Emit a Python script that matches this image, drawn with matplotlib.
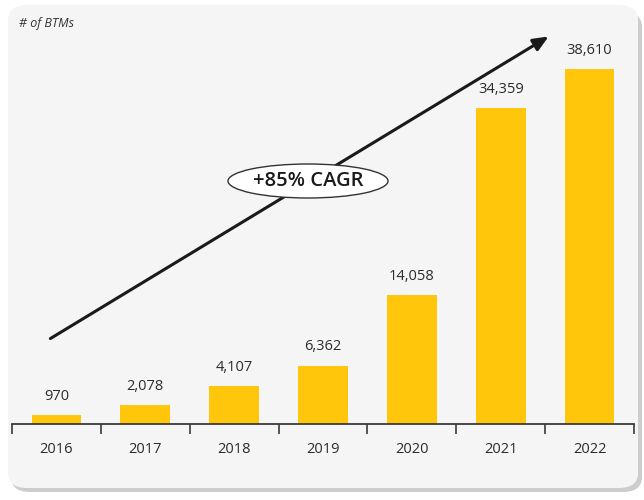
import matplotlib
matplotlib.use("Agg")
import matplotlib.pyplot as plt
from matplotlib.patches import FancyBboxPatch, Ellipse, FancyArrowPatch
import numpy as np

years = ["2016", "2017", "2018", "2019", "2020", "2021", "2022"]
btms = [970, 2078, 4107, 6362, 14058, 34359, 38610]
cagr_label = "+85% CAGR"
unit_label = "# of BTMs"

plt.rcParams['font.family'] = ['Open Sans', 'DejaVu Sans']

W, H = 644, 500
fig = plt.figure(figsize=(W/100, H/100), dpi=100)
fig.patch.set_facecolor('white')

def fx(px): return px / W
def fy(py): return 1 - py / H

# shadow + panel
shadow = FancyBboxPatch((fx(11), fy(492)), fx(631), (488 - 8) / H,
                        boxstyle="round,pad=0,rounding_size=0.03",
                        transform=fig.transFigure, facecolor='#cdcdcd',
                        edgecolor='none', zorder=-2)
fig.patches.append(shadow)
panel = FancyBboxPatch((fx(8), fy(488)), fx(630), (488 - 5) / H,
                       boxstyle="round,pad=0,rounding_size=0.03",
                       transform=fig.transFigure, facecolor='#f5f5f5',
                       edgecolor='none', zorder=-1)
fig.patches.append(panel)

ax = fig.add_axes([fx(12), 1 - 424 / H, fx(622), 404.5 / H])
ax.set_zorder(1)
ax.set_facecolor('none')
x = np.arange(len(years))
ax.bar(x, btms, width=0.56, color='#FFC60B', zorder=2)
ax.set_xlim(-0.5, len(years) - 0.5)
ax.set_ylim(0, 44000)
for s in ['top', 'right', 'left']:
    ax.spines[s].set_visible(False)
ax.spines['bottom'].set_color('#3a3a3a')
ax.spines['bottom'].set_linewidth(1.3)
ax.set_yticks([])
ax.set_xticks(x)
ax.set_xticklabels(years, fontsize=10.5, color='#2b2b2b')
ax.tick_params(axis='x', which='major', length=0, pad=13)
ax.set_xticks(np.arange(-0.5, len(years)), minor=True)
ax.tick_params(axis='x', which='minor', length=7, width=1.2, color='#3a3a3a', direction='out')

for xi, v in zip(x, btms):
    ax.annotate(f"{v:,}", (xi, v), xytext=(0, 8), textcoords='offset points',
                ha='center', va='bottom', fontsize=10.5, color='#2b2b2b')

# arrow
arrow = FancyArrowPatch(
    (fx(48), fy(340)), (fx(551), fy(35)), transform=fig.transFigure,
    arrowstyle='-|>,head_length=7,head_width=3', mutation_scale=1.3,
    color='#1a1a1a', linewidth=2.2, zorder=5)
fig.add_artist(arrow)

ell = Ellipse((fx(308), fy(181)), fx(160), 34 / H, transform=fig.transFigure,
              facecolor='white', edgecolor='#333333', linewidth=1.0, zorder=6)
fig.add_artist(ell)
fig.text(fx(308), fy(181), cagr_label, ha='center', va='center', fontsize=14.5,
         fontweight='semibold', color='#1a1a1a', zorder=7)

fig.text(fx(19), fy(24), unit_label, ha='left', va='center', fontsize=9,
         style='italic', color='#333333')

fig.savefig('out.png', dpi=100, facecolor='white')
